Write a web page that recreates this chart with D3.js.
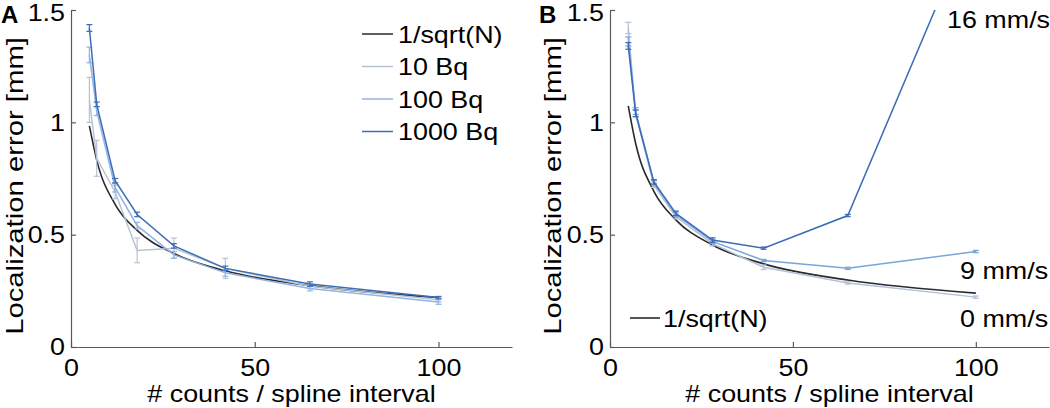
<!DOCTYPE html>
<html><head><meta charset="utf-8">
<script src="https://cdn.jsdelivr.net/npm/d3@7"></script>
<style>
html,body{margin:0;padding:0;background:#fff;}
svg{display:block;font-family:"Liberation Sans",Arial,Helvetica,sans-serif;}
</style></head>
<body>
<svg id="chart" width="1050" height="408"></svg>
<script>
// ---- data ----
const counts = [5, 7, 12, 18, 28, 42, 65, 100];
const xTicks = [0, 50, 100];
const yTicks = [0, 0.5, 1, 1.5];
const yTickLabels = ["0", "0.5", "1", "1.5"];
const xTickLabels = ["0", "50", "100"];

// Panel A
const aSqrt = [0.984, 0.832, 0.635, 0.519, 0.416, 0.339, 0.273, 0.220];
const a10Bq = [1.10, 0.84, 0.69, 0.43, 0.44, 0.35, 0.27, 0.21];
const a10BqErr = [0.10, 0.08, 0.03, 0.055, 0.045, 0.045, 0.01, 0.01];
const a100Bq = [1.30, 1.05, 0.71, 0.54, 0.41, 0.33, 0.26, 0.20];
const a100BqErr = [0.035, 0.02, 0.02, 0.015, 0.015, 0.015, 0.01, 0.01];
const a1000Bq = [1.42, 1.08, 0.74, 0.59, 0.45, 0.35, 0.28, 0.22];
const a1000BqErr = [0.015, 0.01, 0.01, 0.01, 0.01, 0.01, 0.01, 0.005];
const aLegend = ["1/sqrt(N)", "10 Bq", "100 Bq", "1000 Bq"];

// Panel B
const bSqrt = [1.073, 0.907, 0.693, 0.566, 0.454, 0.370, 0.298, 0.240];
const b0 = [1.42, 1.04, 0.72, 0.58, 0.46, 0.355, 0.285, 0.222];
const b0Err = [0.025, 0.015, 0.01, 0.01, 0.01, 0.01, 0.005, 0.005];
const b9 = [1.36, 1.05, 0.73, 0.59, 0.47, 0.385, 0.35, 0.425];
const b9Err = [0.02, 0.015, 0.01, 0.01, 0.01, 0.005, 0.005, 0.005];
const b16 = [1.34, 1.04, 0.735, 0.595, 0.476, 0.44, 0.585, 1.93];
const b16Err = [0.015, 0.015, 0.01, 0.01, 0.01, 0.005, 0.005, 0.005];
const bLabels = ["16 mm/s", "9 mm/s", "0 mm/s"];
const bLegend = ["1/sqrt(N)"];

const xLabel = "# counts / spline interval";
const yLabel = "Localization error [mm]";

// ---- styles ----
const C = {
  ref: "#2a2a2a",
  light: "#b8c2d6",
  mid: "#93b4e2",
  dark: "#3b6eb7",
  b0: "#b2c0dc",
  b9: "#78a5da",
  b16: "#3b6cb5",
  axis: "#5a5a5a"
};
const FS = 24;
const STRETCH = 1.12;

const svg = d3.select("#chart");

function stretch(sel, f) {
  sel.each(function () {
    const w = this.getComputedTextLength();
    this.setAttribute("textLength", w * f);
    this.setAttribute("lengthAdjust", "spacingAndGlyphs");
  });
}

function makePanel(cfg) {
  const x = d3.scaleLinear().domain([0, 120]).range(cfg.xr);
  const y = d3.scaleLinear().domain([0, 1.5]).range([347, 10]);
  const g = svg.append("g");
  const clipId = "clip" + cfg.id;
  svg.append("clipPath").attr("id", clipId).append("rect")
    .attr("x", cfg.xr[0]).attr("y", y(1.5))
    .attr("width", cfg.xr[1] - cfg.xr[0]).attr("height", y(0) - y(1.5));

  // axes
  const xa = g.append("g").attr("transform", `translate(0,${y(0)})`)
    .call(d3.axisBottom(x).tickValues(xTicks).tickFormat((d, i) => xTickLabels[i])
      .tickSizeInner(-5).tickSizeOuter(0).tickPadding(12));
  const ya = g.append("g").attr("transform", `translate(${x(0)},0)`)
    .call(d3.axisLeft(y).tickValues(yTicks).tickFormat((d, i) => yTickLabels[i])
      .tickSizeInner(-5).tickSizeOuter(0).tickPadding(6));
  [xa, ya].forEach(a => {
    a.select(".domain").attr("stroke", C.axis).attr("stroke-width", 1.2);
    a.selectAll(".tick line").attr("stroke", C.axis).attr("stroke-width", 1.2);
    a.selectAll("text").attr("fill", "#000").style("font-size", FS + "px")
      .style("font-family", "'Liberation Sans', Arial, sans-serif");
    stretch(a.selectAll("text"), STRETCH);
  });
  // keep the top tick label inside the picture
  ya.selectAll(".tick text").filter((d) => d === 1.5).attr("dy", "0.42em");

  // axis titles
  const xt = g.append("text").attr("x", (cfg.xr[0] + cfg.xr[1]) / 2).attr("y", 402)
    .attr("text-anchor", "middle").style("font-size", FS + "px").text(xLabel);
  stretch(xt, STRETCH);
  const yt = g.append("text")
    .attr("transform", `translate(${cfg.yLabelX},186) rotate(-90)`)
    .attr("text-anchor", "middle").style("font-size", FS + "px").text(yLabel);
  stretch(yt, 1.22);

  // panel letter
  g.append("text").attr("x", cfg.letterX).attr("y", 23)
    .style("font-size", "24px").style("font-weight", "bold").text(cfg.letter);

  const plot = g.append("g").attr("clip-path", `url(#${clipId})`);

  cfg.series.forEach(s => {
    const line = d3.line().x(d => x(d[0])).y(d => y(d[1]))
      .curve(s.smooth ? d3.curveMonotoneX : d3.curveLinear);
    const pts = counts.map((c, i) => [c, s.v[i]]);
    plot.append("path").attr("d", line(pts)).attr("fill", "none")
      .attr("stroke", s.color).attr("stroke-width", s.w || 1.5);
    if (s.e) {
      const eb = plot.append("g").attr("stroke", s.color).attr("stroke-width", 1.2);
      counts.forEach((c, i) => {
        const cx = x(c), lo = y(s.v[i] - s.e[i]), hi = y(s.v[i] + s.e[i]);
        eb.append("line").attr("x1", cx).attr("x2", cx).attr("y1", lo).attr("y2", hi);
        eb.append("line").attr("x1", cx - 3).attr("x2", cx + 3).attr("y1", lo).attr("y2", lo);
        eb.append("line").attr("x1", cx - 3).attr("x2", cx + 3).attr("y1", hi).attr("y2", hi);
      });
    }
  });
  return { x, y, g };
}

// Panel A
const pA = makePanel({
  id: "A", letter: "A", letterX: 1, xr: [71, 512], yLabelX: 23,
  series: [
    { v: aSqrt, color: C.ref, w: 1.6, smooth: true },
    { v: a10Bq, e: a10BqErr, color: C.light },
    { v: a100Bq, e: a100BqErr, color: C.mid },
    { v: a1000Bq, e: a1000BqErr, color: C.dark }
  ]
});
const legColors = [C.ref, C.light, C.mid, C.dark];
const legA = pA.g.append("g");
aLegend.forEach((t, i) => {
  const yy = 34 + i * 32.5;
  legA.append("line").attr("x1", 362).attr("x2", 393).attr("y1", yy).attr("y2", yy)
    .attr("stroke", legColors[i]).attr("stroke-width", 1.5);
  const tx = legA.append("text").attr("x", 398).attr("y", yy).attr("dy", "0.36em")
    .style("font-size", FS + "px").text(t);
  stretch(tx, STRETCH);
});

// Panel B
const pB = makePanel({
  id: "B", letter: "B", letterX: 539, xr: [610, 1049], yLabelX: 561,
  series: [
    { v: bSqrt, color: C.ref, w: 1.6, smooth: true },
    { v: b0, e: b0Err, color: C.b0 },
    { v: b9, e: b9Err, color: C.b9 },
    { v: b16, e: b16Err, color: C.b16 }
  ]
});
const legB = pB.g.append("g");
bLegend.forEach((t, i) => {
  const yy = 318;
  legB.append("line").attr("x1", 630).attr("x2", 660).attr("y1", yy).attr("y2", yy)
    .attr("stroke", C.ref).attr("stroke-width", 1.6);
  const tx = legB.append("text").attr("x", 663).attr("y", yy).attr("dy", "0.36em")
    .style("font-size", FS + "px").text(t);
  stretch(tx, STRETCH);
});
const bLabPos = [[947, 28], [960, 279], [960, 327]];
bLabels.forEach((t, i) => {
  const tx = pB.g.append("text").attr("x", bLabPos[i][0]).attr("y", bLabPos[i][1])
    .style("font-size", FS + "px").text(t);
  stretch(tx, STRETCH);
});
</script>
</body></html>
